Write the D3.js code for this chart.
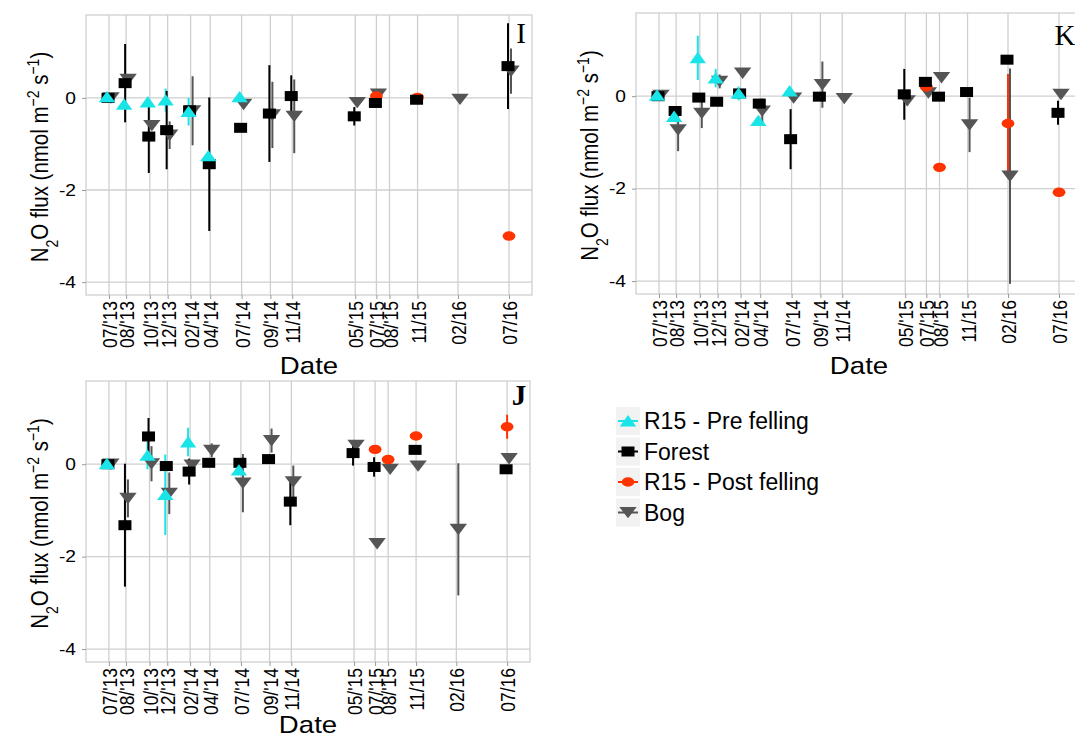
<!DOCTYPE html>
<html>
<head>
<meta charset="utf-8">
<script src="https://cdn.jsdelivr.net/npm/d3@7"></script>
<style>
  body { margin:0; background:#fff; }
  svg { display:block; font-family:"Liberation Sans", Arial, sans-serif; }
</style>
</head>
<body>
<div id="chart"></div>
<script>
// Sampling dates and their tick labels
const dates = [
  "2013-07-10","2013-08-26","2013-10-30","2013-12-18","2014-02-19","2014-04-14",
  "2014-07-09","2014-09-26","2014-11-25","2015-05-17","2015-07-14","2015-08-19",
  "2015-11-04","2016-02-23","2016-07-12"
];
const tickLabels = [
  "07/'13","08/'13","10/'13","12/'13","02/'14","04/'14","07/'14","09/'14","11/14",
  "05/'15","07/'15","08/'15","11/15","02/16","07/16"
];
const yTicks = [0, -2, -4];
const seriesNames = ["R15 - Pre felling","Forest","R15 - Post felling","Bog"];
const seriesColors = ["#19e4e8","#000000","#ff3300","#555555"];
const seriesShapes = ["up","square","circle","down"];

// Panel I
const preI      = [0.02,-0.14,-0.09,-0.05,-0.30,-1.26,0.02,null,null,null,null,null,null,null,null];
const preIerr   = [0.02,0.02,0.02,0.25,0.30,0.02,0.02,null,null,null,null,null,null,null,null];
const forestI   = [0.00,0.32,-0.84,-0.70,-0.27,-1.44,-0.65,-0.34,0.04,-0.40,-0.11,null,-0.04,null,0.69];
const forestIerr= [0.03,0.85,0.79,0.85,0.10,1.45,0.05,1.05,0.45,0.20,0.05,null,0.05,null,0.93];
const postI     = [null,null,null,null,null,null,null,null,null,null,0.04,null,0.01,null,-3.00];
const postIerr  = [null,null,null,null,null,null,null,null,null,null,0.03,null,0.06,null,0.03];
const bogI      = [0.00,0.40,-0.60,-0.81,-0.28,null,-0.14,-0.37,-0.40,-0.10,0.08,null,null,-0.03,0.58];
const bogIerr   = [0.02,0.05,0.10,0.30,0.75,null,0.05,0.72,0.80,0.05,0.05,null,null,0.02,0.49];

// Panel K
const preK      = [0.02,-0.44,0.83,0.39,0.06,-0.53,0.11,null,null,null,null,null,null,null,null];
const preKerr   = [0.02,0.03,0.48,0.20,0.15,0.03,0.03,null,null,null,null,null,null,null,null];
const forestK   = [0.00,-0.32,-0.03,-0.12,0.06,-0.16,-0.93,-0.01,null,0.04,0.31,-0.01,0.09,0.79,-0.36];
const forestKerr= [0.02,0.05,0.03,0.03,0.03,0.03,0.65,0.03,null,0.55,0.03,0.03,0.03,0.03,0.26];
const postK     = [null,null,null,null,null,null,null,null,null,null,0.20,-1.54,null,-0.59,-2.08];
const postKerr  = [null,null,null,null,null,null,null,null,null,null,0.05,0.03,null,1.07,0.03];
const bogK      = [0.02,-0.73,-0.37,0.32,0.50,-0.32,-0.04,0.25,-0.05,-0.10,0.07,0.40,-0.62,-1.73,0.04];
const bogKerr   = [0.02,0.46,0.32,0.15,0.03,0.27,0.03,0.50,0.03,0.10,0.03,0.03,0.59,2.33,0.03];

// Panel J
const preJ      = [0.01,null,0.19,-0.66,0.48,null,-0.13,null,null,null,null,null,null,null,null];
const preJerr   = [0.02,null,0.30,0.87,0.31,null,0.05,null,null,null,null,null,null,null,null];
const forestJ   = [0.00,-1.32,0.60,-0.04,-0.16,0.03,0.03,0.11,-0.81,0.24,-0.06,null,0.31,null,-0.11];
const forestJerr= [0.02,1.33,0.40,0.03,0.28,0.03,0.03,0.03,0.51,0.27,0.21,null,0.03,null,0.03];
const postJ     = [null,null,null,null,null,null,null,null,null,null,0.32,0.10,0.61,null,0.81];
const postJerr  = [null,null,null,null,null,null,null,null,null,null,0.03,0.03,0.03,null,0.26];
const bogJ      = [0.00,-0.74,0.01,-0.63,-0.02,0.30,-0.41,0.51,-0.38,0.41,-1.72,-0.11,-0.04,-1.41,0.12];
const bogJerr   = [0.02,0.41,0.38,0.45,0.03,0.15,0.63,0.26,0.35,0.03,0.03,0.03,0.03,1.43,0.03];

const W = 1075, H = 744;
const parse = d3.timeParse("%Y-%m-%d");
const times = dates.map(parse);

const svg = d3.select("#chart").append("svg")
  .attr("width", W).attr("height", H);

const panels = [
  {label:"I", left:86, top:15, width:446, height:280, titleY:374, labelX:521, labelY:43,
   vals:[preI,forestI,postI,bogI], errs:[preIerr,forestIerr,postIerr,bogIerr]},
  {label:"K", left:636, top:13, width:446, height:281, titleY:374, labelX:1065, labelY:45,
   vals:[preK,forestK,postK,bogK], errs:[preKerr,forestKerr,postKerr,bogKerr]},
  {label:"J", left:86, top:381, width:444, height:281, titleY:733, labelX:519, labelY:405,
   vals:[preJ,forestJ,postJ,bogJ], errs:[preJerr,forestJerr,postJerr,bogJerr]}
];

// small pixel dodge per group
const dodge = [-2, -1, 0, 2];
// the original picture is a bit wider than tall, text too
const stretch = 1.2;

function symbol(g, shape, x, y, color) {
  if (shape === "square") {
    g.append("rect").attr("x", x-6.5).attr("y", y-5)
      .attr("width", 13).attr("height", 10).attr("fill", color);
  } else if (shape === "circle") {
    g.append("ellipse").attr("cx", x).attr("cy", y)
      .attr("rx", 6.4).attr("ry", 4.7).attr("fill", color);
  } else if (shape === "up") {
    g.append("path").attr("d", `M${x},${y-6}L${x+8.2},${y+5.4}L${x-8.2},${y+5.4}Z`).attr("fill", color);
  } else {
    g.append("path").attr("d", `M${x-8.7},${y-5.6}L${x+8.7},${y-5.6}L${x},${y+5.8}Z`).attr("fill", color);
  }
}

function drawPanel(p) {
  const span = times[times.length-1] - times[0];
  const pad = span * 0.0575;
  const x = d3.scaleTime()
    .domain([new Date(+times[0] - pad), new Date(+times[times.length-1] + pad)])
    .range([p.left, p.left + p.width]);
  const y = d3.scaleLinear().domain([-4.28, 1.80]).range([p.top + p.height, p.top]);

  const g = svg.append("g");
  const bottom = p.top + p.height;

  // grid
  g.selectAll(".vg").data(times).enter().append("line")
    .attr("x1", d => x(d)).attr("x2", d => x(d))
    .attr("y1", p.top).attr("y2", bottom)
    .attr("stroke", "#cfcfcf").attr("stroke-width", 1.3);
  g.selectAll(".hg").data(yTicks).enter().append("line")
    .attr("x1", p.left).attr("x2", p.left + p.width)
    .attr("y1", d => y(d)).attr("y2", d => y(d))
    .attr("stroke", "#cfcfcf").attr("stroke-width", 1.3);
  g.append("rect")
    .attr("x", p.left).attr("y", p.top).attr("width", p.width).attr("height", p.height)
    .attr("fill", "none").attr("stroke", "#cccccc").attr("stroke-width", 1.2);

  // axes
  const xAxis = d3.axisBottom(x).tickValues(times)
    .tickFormat((d, i) => tickLabels[i]).tickSize(4).tickPadding(3);
  const xa = g.append("g").attr("transform", `translate(0,${bottom})`).call(xAxis);
  xa.select(".domain").remove();
  xa.selectAll(".tick line").attr("stroke", "#999");
  xa.selectAll(".tick text")
    .attr("transform", `rotate(-90) scale(1,${stretch})`)
    .attr("x", -6).attr("y", 0).attr("dy", "0.36em")
    .attr("text-anchor", "end")
    .style("font-size", "17.5px").attr("fill", "#000")
    .style("font-family", "Liberation Sans, Arial, sans-serif");

  const yAxis = d3.axisLeft(y).tickValues(yTicks).tickFormat(d => d === 0 ? "0" : "-" + Math.abs(d))
    .tickSize(4).tickPadding(6);
  const ya = g.append("g").attr("transform", `translate(${p.left},0)`).call(yAxis);
  ya.select(".domain").remove();
  ya.selectAll(".tick line").attr("stroke", "#999");
  ya.selectAll(".tick text").style("font-size", "16px").attr("fill", "#000")
    .attr("transform", d => `translate(-10,${y(d)}) scale(${stretch},1) translate(10,${-y(d)})`)
    .style("font-family", "Liberation Sans, Arial, sans-serif");

  // axis titles
  g.append("text")
    .attr("transform", `translate(${p.left + p.width / 2},${p.titleY}) scale(1.15,1)`)
    .attr("text-anchor", "middle").style("font-size", "24px").text("Date");

  const yt = g.append("text")
    .attr("transform", `translate(${p.left - 38},${p.top + p.height / 2 + 2}) rotate(-90) scale(1,${stretch})`)
    .attr("text-anchor", "middle").style("font-size", "20.5px");
  yt.append("tspan").text("N");
  yt.append("tspan").attr("baseline-shift", "sub").style("font-size", "14px").text("2");
  yt.append("tspan").text("O flux (nmol m");
  yt.append("tspan").attr("baseline-shift", "super").style("font-size", "14px").text("\u22122");
  yt.append("tspan").text(" s");
  yt.append("tspan").attr("baseline-shift", "super").style("font-size", "14px").text("\u22121");
  yt.append("tspan").text(")");

  // error bars
  p.errs.forEach((errs, s) => {
    p.vals[s].forEach((v, i) => {
      if (v === null) return;
      const cx = x(times[i]) + dodge[s];
      g.append("line")
        .attr("x1", cx).attr("x2", cx)
        .attr("y1", y(v + errs[i])).attr("y2", y(v - errs[i]))
        .attr("stroke", seriesColors[s]).attr("stroke-width", 2);
    });
  });

  // points: bog, post, forest, pre
  [3, 2, 1, 0].forEach(s => {
    p.vals[s].forEach((v, i) => {
      if (v === null) return;
      symbol(g, seriesShapes[s], x(times[i]) + dodge[s], y(v), seriesColors[s]);
    });
  });

  // panel letter
  g.append("text").attr("x", p.labelX).attr("y", p.labelY)
    .attr("text-anchor", "middle")
    .style("font-family", "Liberation Serif, Times New Roman, serif")
    .style("font-size", "29px").style("font-weight", p.label === "J" ? "bold" : "normal")
    .text(p.label);
}

panels.forEach(drawPanel);

// Legend
const lg = svg.append("g").attr("transform", "translate(616,407)");
seriesNames.forEach((name, i) => {
  const row = lg.append("g").attr("transform", `translate(0,${i * 30.5})`);
  row.append("rect").attr("width", 24).attr("height", 28).attr("fill", "#f2f2f2");
  row.append("line").attr("x1", 2).attr("x2", 22).attr("y1", 14).attr("y2", 14)
    .attr("stroke", seriesColors[i]).attr("stroke-width", 2);
  symbol(row, seriesShapes[i], 12, 14, seriesColors[i]);
  row.append("text").attr("x", 28).attr("y", 22)
    .style("font-size", "23px").text(name);
});
</script>
</body>
</html>
